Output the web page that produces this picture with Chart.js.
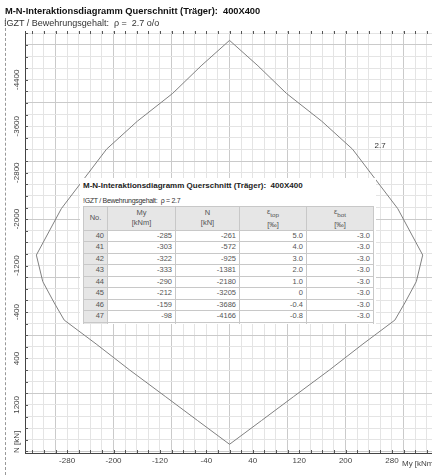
<!DOCTYPE html>
<html>
<head>
<meta charset="utf-8">
<script src="https://cdn.jsdelivr.net/npm/chart.js@4.4.1/dist/chart.umd.min.js"></script>
<style>
    body { margin: 0; width: 432px; height: 475px; overflow: hidden; background: #fff; position: relative;
           font-family: "Liberation Sans", Arial, sans-serif; }
    #chart { position: absolute; left: 0; top: 0; }
    #frame { position: absolute; left: 5px; top: 18px; bottom: 0; border-left: 1px dashed #999; }
    #title { position: absolute; left: 5px; top: 6px; font-size: 9.3px; font-weight: bold; color: #111; white-space: nowrap; }
    #sub { position: absolute; left: 4px; top: 18px; font-size: 9px; color: #333; white-space: nowrap; }
    #box { position: absolute; left: 80px; top: 178px; width: 296px; height: 146px; background: #fff; overflow: hidden; }
    #box .bt { position: absolute; left: 3px; top: 3px; font-size: 8px; font-weight: bold; color: #222; white-space: nowrap; }
    #box .bs { position: absolute; left: 3px; top: 19px; font-size: 7px; letter-spacing: -0.3px; color: #333; white-space: nowrap; }
    #tbl { position: absolute; left: 3px; top: 28px; border-collapse: collapse; font-size: 7.5px; color: #555; }
    #tbl th, #tbl td { border: 1px solid #c8c8c8; padding: 0 3px; }
    #tbl th { background: #e6e6e6; font-weight: normal; text-align: center; height: 19px; line-height: 10px; }
    #tbl td { text-align: right; height: 10.57px; line-height: 10.57px; }
    #tbl td.no { background: #e6e6e6; }
</style>
</head>
<body>
<canvas id="chart" width="432" height="475"></canvas>
<div id="frame"></div>
<div id="title">M-N-Interaktionsdiagramm Querschnitt (Träger):&nbsp; 400X400</div>
<div id="sub">!GZT / Bewehrungsgehalt:&nbsp; ρ =&nbsp; 2.7 o/o</div>
<div id="box">
    <div class="bt">M-N-Interaktionsdiagramm Querschnitt (Träger):&nbsp; 400X400</div>
    <div class="bs">!GZT / Bewehrungsgehalt:&nbsp; ρ = 2.7</div>
    <table id="tbl">
        <thead><tr>
            <th style="width:17px">No.</th>
            <th style="width:61px">My<br>[kNm]</th>
            <th style="width:57px">N<br>[kN]</th>
            <th style="width:60px">ε<sub>top</sub><br>[‰]</th>
            <th style="width:60px">ε<sub>bot</sub><br>[‰]</th>
        </tr></thead>
        <tbody id="rows"></tbody>
    </table>
</div>
<script>
// interaction curve (closed, symmetric) - My in kNm, N in kN
const curveMy = [0, -49, -98, -159, -212, -290, -333, -322, -303, -285, -230, -172, -110, -55,
                 0, 55, 110, 172, 230, 285, 303, 322, 333, 290, 212, 159, 98, 49, 0];
const curveN  = [-5078, -4640, -4166, -3686, -3205, -2180, -1381, -925, -572, -261, 150, 600, 1060, 1470,
                 1878, 1470, 1060, 600, 150, -261, -572, -925, -1381, -2180, -3205, -3686, -4166, -4640, -5078];

// table rows
const rowNo     = [40, 41, 42, 43, 44, 45, 46, 47, 48];
const rowMy     = [-285, -303, -322, -333, -290, -212, -159, -98, -39];
const rowN      = [-261, -572, -925, -1381, -2180, -3205, -3686, -4166, -4646];
const rowEpsTop = ['5.0', '4.0', '3.0', '2.0', '1.0', '0', '-0.4', '-0.8', '-1.2'];
const rowEpsBot = ['-3.0', '-3.0', '-3.0', '-3.0', '-3.0', '-3.0', '-3.0', '-3.0', '-3.0'];

// axis labels
const xLabels = [-280, -200, -120, -40, 40, 120, 200, 280];
const yLabels = [-4400, -3600, -2800, -2000, -1200, -400, 400, 1200];
const curveLabel = '2.7';

document.getElementById('rows').innerHTML = rowNo.map((no, i) => `
    <tr><td class="no">${no}</td><td>${rowMy[i]}</td><td>${rowN[i]}</td>
    <td>${rowEpsTop[i]}</td><td>${rowEpsBot[i]}</td></tr>`).join('');

const gridSteps = (from, to, step) => {
    const out = [];
    for (let v = from; v <= to; v += step) out.push({ value: v });
    return out;
};

const frameTicks = {
    id: 'frameTicks',
    afterDraw(chart) {
        const { ctx, chartArea: a, scales: { x, y } } = chart;
        ctx.save();
        ctx.strokeStyle = '#555';
        ctx.lineWidth = 1;
        ctx.beginPath();
        x.ticks.forEach(t => {
            const px = Math.round(x.getPixelForValue(t.value)) + 0.5;
            ctx.moveTo(px, a.bottom); ctx.lineTo(px, a.bottom - 3);
            ctx.moveTo(px, a.top); ctx.lineTo(px, a.top + 3);
        });
        y.ticks.forEach(t => {
            const py = Math.round(y.getPixelForValue(t.value)) + 0.5;
            ctx.moveTo(a.left, py); ctx.lineTo(a.left + 3, py);
        });
        ctx.stroke();

        // rotated y labels
        ctx.font = '8px "Liberation Sans", Arial';
        ctx.fillStyle = '#444';
        ctx.textBaseline = 'middle';
        ctx.textAlign = 'center';
        yLabels.forEach(v => {
            ctx.save();
            ctx.translate(a.left - 8, y.getPixelForValue(v));
            ctx.rotate(-Math.PI / 2);
            ctx.fillText(String(v), 0, 0);
            ctx.restore();
        });
        ctx.save();
        ctx.translate(a.left - 8, a.bottom);
        ctx.rotate(-Math.PI / 2);
        ctx.textAlign = 'left';
        ctx.fillText('N [kN]', 0, 0);
        ctx.restore();

        // x axis title
        ctx.textAlign = 'left';
        ctx.fillText('My [kNm]', x.getPixelForValue(xLabels[xLabels.length - 1]) + 10, a.bottom + 11);

        // curve label next to the right branch
        ctx.fillStyle = '#333';
        ctx.fillText(curveLabel, x.getPixelForValue(-rowMy[5]) + 22, y.getPixelForValue(rowN[5]) - 3);
        ctx.restore();
    }
};

const isMajor = (v, step) => Math.abs(v % step) < 1e-6;

new Chart(document.getElementById('chart'), {
    type: 'scatter',
    data: {
        datasets: [{
            data: curveMy.map((m, i) => ({ x: m, y: curveN[i] })),
            showLine: true,
            borderColor: '#808080',
            borderWidth: 1,
            pointRadius: 0,
            tension: 0,
            fill: false
        }]
    },
    options: {
        responsive: false,
        animation: false,
        devicePixelRatio: 1,
        layout: { padding: { top: 31, left: 0, right: 0, bottom: 0 } },
        plugins: { legend: { display: false }, tooltip: { enabled: false } },
        scales: {
            x: {
                type: 'linear',
                min: -352.6,
                max: 349,
                afterBuildTicks: s => { s.ticks = gridSteps(-340, 340, 20); },
                afterFit: s => { s.height = 22; },
                grid: {
                    drawTicks: false,
                    color: c => isMajor(c.tick.value, 100) ? '#cacaca' : '#e4e4e4'
                },
                border: { color: '#444' },
                ticks: {
                    padding: 3,
                    autoSkip: false,
                    maxRotation: 0,
                    color: '#444',
                    font: { family: 'Liberation Sans', size: 8 },
                    callback: v => xLabels.includes(v) ? String(v) : ''
                }
            },
            y: {
                type: 'linear',
                reverse: true,
                min: -5240,
                max: 2028,
                afterBuildTicks: s => { s.ticks = gridSteps(-5200, 2000, 200); },
                afterFit: s => { s.width = 25; },
                grid: {
                    drawTicks: false,
                    color: c => isMajor(c.tick.value, 1000) ? '#cacaca' : '#e4e4e4'
                },
                border: { color: '#444' },
                ticks: { display: false }
            }
        }
    },
    plugins: [frameTicks]
});
</script>
</body>
</html>
